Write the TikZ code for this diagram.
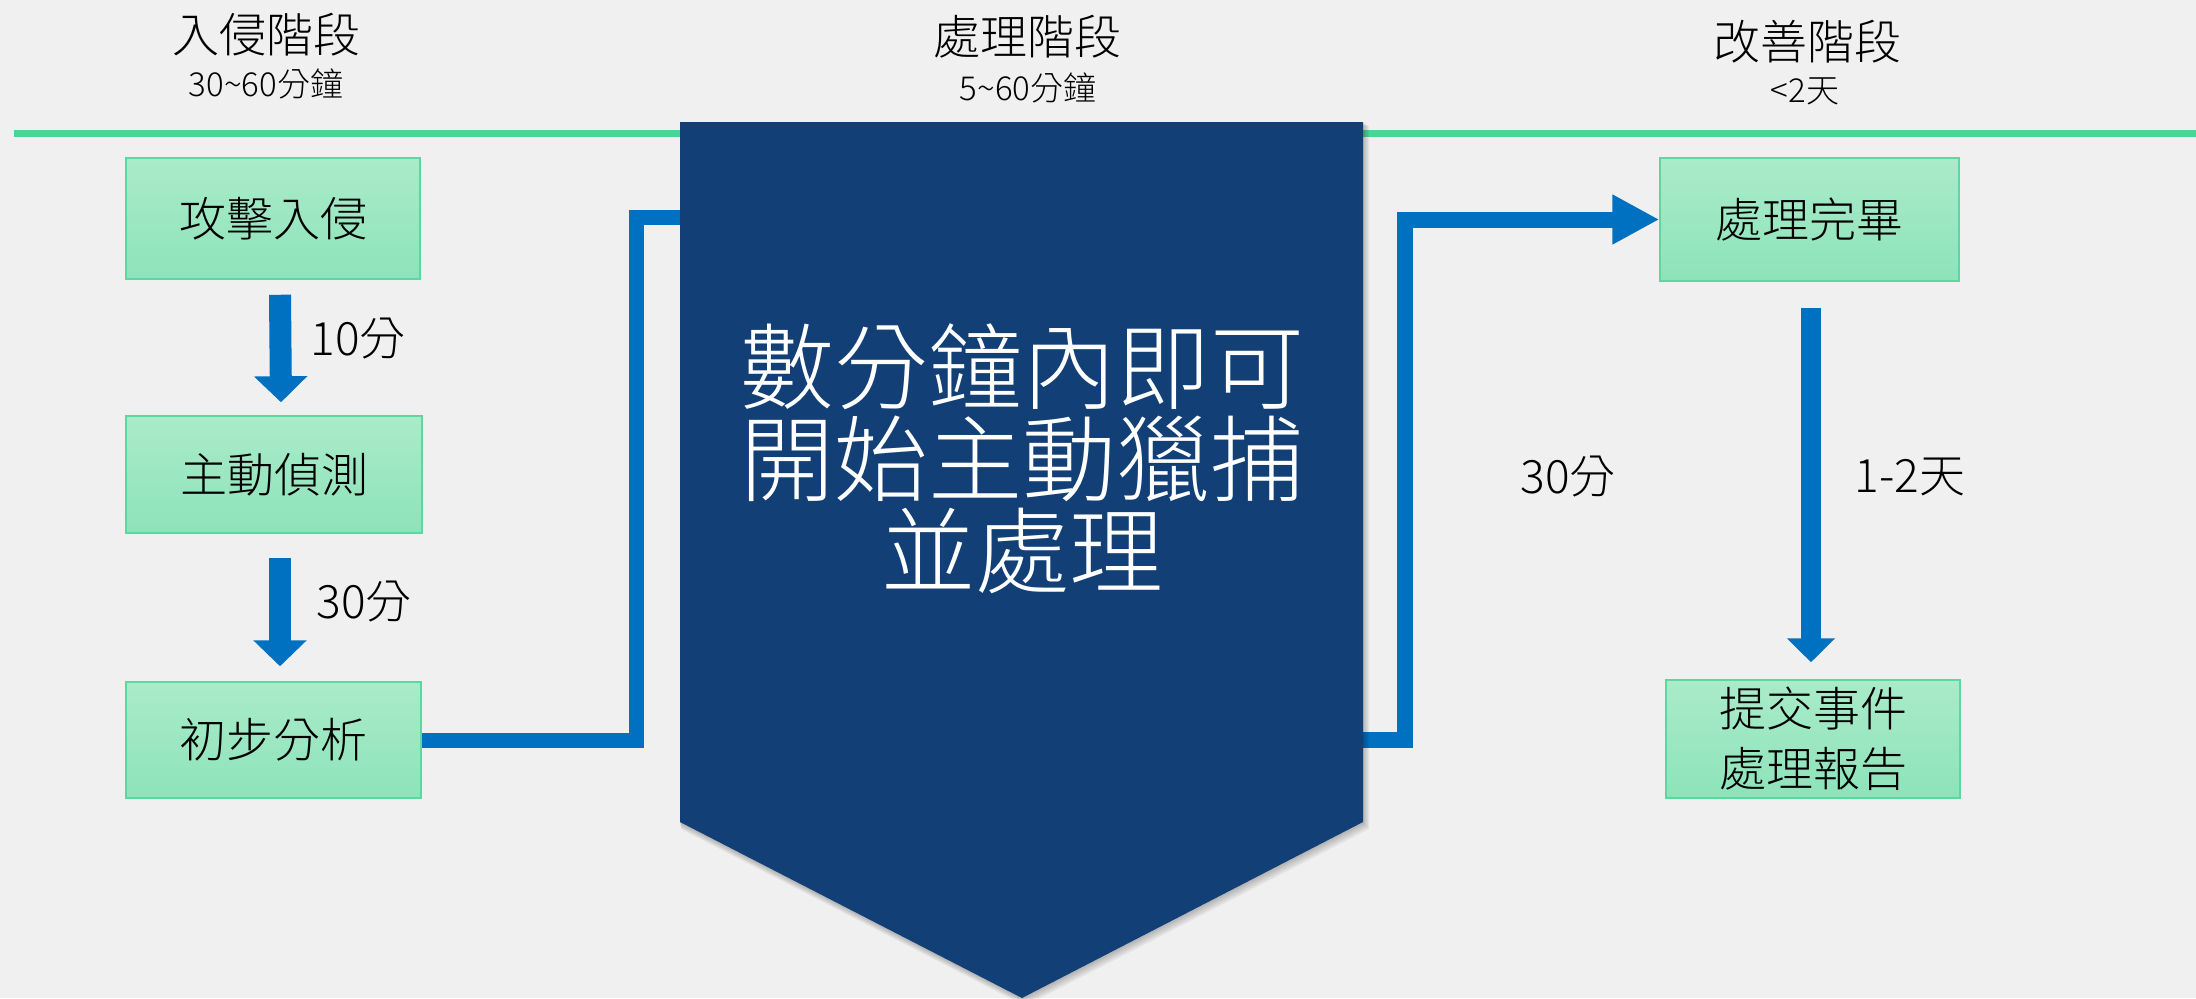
\documentclass[tikz,border=0pt]{standalone}
\usepackage{fontspec}
\setmainfont{Noto Sans CJK TC Light}
\usetikzlibrary{arrows.meta,calc}
\definecolor{bg}{HTML}{F0F0F0}
\definecolor{mint}{HTML}{4AD597}
\definecolor{boxtop}{HTML}{AAEBC9}
\definecolor{boxbot}{HTML}{8DE3BA}
\definecolor{boxline}{HTML}{5BD89E}
\definecolor{flow}{HTML}{0070C0}
\definecolor{navy}{HTML}{123F76}
\tikzset{
  gbox/.style={draw=boxline, line width=0.75pt, top color=boxtop, bottom color=boxbot,
    inner sep=0pt, align=center, font=\fontsize{23.5}{30}\selectfont},
  headtxt/.style={inner sep=0pt, font=\fontsize{23.5}{28}\selectfont},
  subtxt/.style={inner sep=0pt, font=\fontsize{16.5}{20}\selectfont},
  lbl/.style={inner sep=0pt, font=\fontsize{23}{28}\selectfont},
  darrA/.style={draw=flow, line width=11pt, -{Triangle[length=13pt,width=26pt]}},
  darrB/.style={draw=flow, line width=10pt, -{Triangle[length=12pt,width=23.5pt]}},
  conn/.style={draw=flow, line width=7.5pt, line join=miter},
  connarr/.style={draw=flow, line width=8pt, line join=miter, -{Triangle[length=23.5pt,width=23.5pt]}},
}
\begin{document}
\begin{tikzpicture}[x=0.5pt,y=-0.5pt]
\useasboundingbox (0,0) rectangle (2196,998);
\clip (0,0) rectangle (2196,998);
\fill[bg] (0,0) rectangle (2196,998);
% timeline
\draw[mint, line width=3.5pt] (14,133) -- (2196,133);
% headers
\node[headtxt] (h1) at (266,35) {入侵階段};
\node[subtxt] (s1) at (266,84) {30\textasciitilde60分鐘};
\node[headtxt] (h2) at (1027,37) {處理階段};
\node[subtxt] (s2) at (1028,88) {5\textasciitilde60分鐘};
\node[headtxt] (h3) at (1807,42) {改善階段};
\node[subtxt] (s3) at (1805,91) {<2天};
% boxes
\node[gbox, minimum width=147pt, minimum height=60.5pt] (a) at (273,218.5) {攻擊入侵};
\node[gbox, minimum width=148pt, minimum height=58.5pt] (b) at (274,474.5) {主動偵測};
\node[gbox, minimum width=147.5pt, minimum height=58pt] (c) at (273.5,740) {初步分析};
\node[gbox, minimum width=149.5pt, minimum height=61.5pt] (d) at (1809.5,219.5) {處理完畢};
\node[gbox, minimum width=147pt, minimum height=59pt] (e) at (1813,739) {提交事件\\處理報告};
% left arrows
\draw[darrA] ($(a.south)+(7,15)$) -- ($(b.north)+(7,-13)$);
\draw[darrA] ($(b.south)+(6,24)$) -- ($(c.north)+(6.5,-15)$);
\node[lbl] (l1) at (358,339) {10分};
\node[lbl] (l2) at (364,602) {30分};
% right arrow
\draw[darrB] ($(d.south)+(1.5,26)$) -- ($(e.north)+(-2,-17)$);
\node[lbl] (l4) at (1910,477) {1-2天};
\node[lbl] (l3) at (1568,477) {30分};
% pentagon corner coordinates
\coordinate (ptl) at (680,122);
\coordinate (ptr) at (1363,122);
\coordinate (pbr) at (1363,822);
\coordinate (ptip) at (1022,998);
\coordinate (pbl) at (680,822);
% connectors
\coordinate (lk) at (636,217);
\coordinate (pl) at (680,217);
\draw[conn] (c.east) -| (lk) -- (pl);
\coordinate (pr) at (1363,740);
\coordinate (rk) at (1405,220);
\draw[connarr] (pr) -| (rk |- d.west) -- (d.west);
% pentagon shadow
\foreach \i in {1,...,5}{
  \fill[black, opacity=0.05] ($(ptl)+(\i*0.6,\i*0.8)$) -- ($(ptr)+(\i*1.2,\i*0.8)$) -- ($(pbr)+(\i*1.2,\i*1.4)$) -- ($(ptip)+(\i*0.6,\i*1.6)$) -- ($(pbl)+(\i*0.2,\i*1.4)$) -- cycle;
}
\fill[navy] (ptl) -- (ptr) -- (pbr) -- (ptip) -- (pbl) -- cycle;
\node[inner sep=0pt, text=white, align=center, font=\fontsize{47}{46}\selectfont] (core) at (1022,459) {數分鐘內即可\\開始主動獵捕\\並處理};
\end{tikzpicture}
\end{document}
